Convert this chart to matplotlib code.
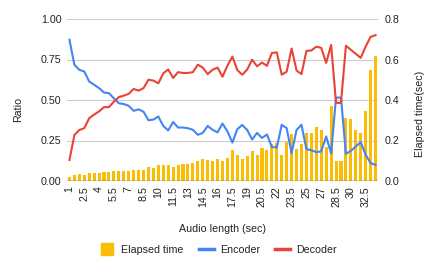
import matplotlib
matplotlib.use('Agg')
import matplotlib.pyplot as plt
from matplotlib.lines import Line2D

plt.rcParams['font.family'] = ['Liberation Sans', 'DejaVu Sans']

# audio length categories (sec)
audio_len = ['1', '1.5', '2', '2.5', '3', '3.5', '4', '4.5', '5', '5.5',
             '6', '6.5', '7', '7.5', '8', '8.5', '9', '9.5', '10', '10.5',
             '11', '11.5', '12', '12.5', '13', '13.5', '14', '14.5', '15', '15.5',
             '16', '16.5', '17', '17.5', '18', '18.5', '19', '19.5', '20', '20.5',
             '21', '21.5', '22', '22.5', '23', '23.5', '24', '24.5', '25', '25.5',
             '26', '27', '27.5', '28', '28.5', '29', '29.5', '30', '31', '32',
             '32.5', '33', '33.5']

elapsed = [0.020, 0.029, 0.034, 0.029, 0.038, 0.038, 0.038, 0.046, 0.043, 0.047,
           0.048, 0.050, 0.051, 0.055, 0.055, 0.055, 0.067, 0.063, 0.080, 0.077,
           0.079, 0.071, 0.079, 0.083, 0.086, 0.087, 0.099, 0.108, 0.102, 0.098,
           0.109, 0.098, 0.114, 0.153, 0.129, 0.108, 0.122, 0.148, 0.129, 0.162,
           0.151, 0.182, 0.186, 0.129, 0.192, 0.234, 0.160, 0.182, 0.236, 0.239,
           0.265, 0.250, 0.170, 0.369, 0.099, 0.099, 0.310, 0.304, 0.253, 0.236,
           0.344, 0.550, 0.615]

encoder = [0.872, 0.717, 0.686, 0.676, 0.614, 0.594, 0.573, 0.546, 0.542, 0.510,
           0.480, 0.475, 0.464, 0.433, 0.442, 0.428, 0.375, 0.379, 0.398, 0.340,
           0.312, 0.364, 0.330, 0.330, 0.326, 0.316, 0.285, 0.297, 0.340, 0.316,
           0.300, 0.355, 0.306, 0.237, 0.320, 0.346, 0.315, 0.256, 0.297, 0.266,
           0.287, 0.210, 0.207, 0.347, 0.326, 0.171, 0.315, 0.347, 0.197, 0.190,
           0.178, 0.183, 0.275, 0.170, 0.515, 0.515, 0.168, 0.186, 0.213, 0.240,
           0.162, 0.110, 0.100]

decoder = [0.130, 0.284, 0.315, 0.326, 0.388, 0.410, 0.430, 0.456, 0.456, 0.490,
           0.518, 0.527, 0.538, 0.568, 0.558, 0.573, 0.625, 0.620, 0.603, 0.664,
           0.689, 0.636, 0.672, 0.667, 0.667, 0.672, 0.718, 0.700, 0.660, 0.687,
           0.700, 0.644, 0.712, 0.768, 0.685, 0.656, 0.688, 0.749, 0.708, 0.731,
           0.711, 0.790, 0.794, 0.656, 0.675, 0.818, 0.682, 0.660, 0.803, 0.806,
           0.829, 0.822, 0.729, 0.840, 0.482, 0.482, 0.835, 0.810, 0.785, 0.760,
           0.830, 0.890, 0.900]

YELLOW = '#FBBC04'
BLUE = '#4285F4'
RED = '#EA4335'
TXT = '#222222'
FS = 7.7

fig = plt.figure(figsize=(4.37, 2.70), dpi=100)
ax_bar = fig.add_axes([67 / 437, 89 / 270, 311 / 437, 162 / 270])
ax_line = ax_bar.twinx()  # lines drawn on top of the bars
x = list(range(len(audio_len)))

# bars on the right axis (elapsed time)
ax_bar.bar(x, elapsed, width=0.62, color=YELLOW, zorder=2)
ax_bar.set_ylim(0, 0.8)
ax_bar.set_yticks([0, 0.2, 0.4, 0.6, 0.8])
ax_bar.set_yticklabels(['0.0', '0.2', '0.4', '0.6', '0.8'])
ax_bar.grid(axis='y', color='#cccccc', linewidth=0.8)
ax_bar.set_axisbelow(True)
ax_bar.set_xlim(-0.5, len(x) - 0.5)
ax_bar.set_xticks(x[::3])
ax_bar.set_xticklabels(audio_len[::3], rotation=90)
ax_bar.set_xlabel('Audio length (sec)', fontsize=FS, color=TXT)

# lines on the left axis (ratio)
ax_line.plot(x, encoder, color=BLUE, linewidth=1.5)
ax_line.plot(x, decoder, color=RED, linewidth=1.5)
ax_line.set_ylim(0, 1)
ax_line.set_yticks([0, 0.25, 0.5, 0.75, 1.0])
ax_line.set_yticklabels(['0.00', '0.25', '0.50', '0.75', '1.00'])

# swap sides: ratio on the left, elapsed time on the right
ax_bar.yaxis.tick_right()
ax_bar.yaxis.set_label_position('right')
ax_line.yaxis.tick_left()
ax_line.yaxis.set_label_position('left')

ax_bar.set_ylabel('Elapsed time(sec)', fontsize=FS, color=TXT)
ax_line.set_ylabel('Ratio', fontsize=FS, color=TXT)
ax_bar.xaxis.set_label_coords(0.5, -0.296)
ax_bar.xaxis.label.set_va('center')
ax_bar.yaxis.set_label_coords(1.135, 0.414)
ax_bar.yaxis.label.set_va('center')
ax_line.yaxis.set_label_coords(-0.158, 0.44)
ax_line.yaxis.label.set_va('center')

for a in (ax_bar, ax_line):
    for s in a.spines.values():
        s.set_visible(False)
    a.tick_params(length=0, labelsize=FS, labelcolor=TXT)
ax_bar.tick_params(axis='y', pad=4.5)
ax_line.tick_params(axis='y', pad=4)
ax_bar.tick_params(axis='x', pad=4)
ax_bar.axhline(0, color='#333333', linewidth=1, zorder=3)

handles = [Line2D([], [], marker='s', linestyle='none', markersize=8, color=YELLOW),
           Line2D([], [], color=BLUE, linewidth=2.5),
           Line2D([], [], color=RED, linewidth=2.5)]
fig.legend(handles, ['Elapsed time', 'Encoder', 'Decoder'], loc='center',
           bbox_to_anchor=(0.5, 1 - 250 / 270), ncol=3, frameon=False,
           fontsize=FS, handlelength=1.4, handletextpad=0.6, columnspacing=1.4,
           labelcolor=TXT)

fig.savefig('out.png', dpi=100)
